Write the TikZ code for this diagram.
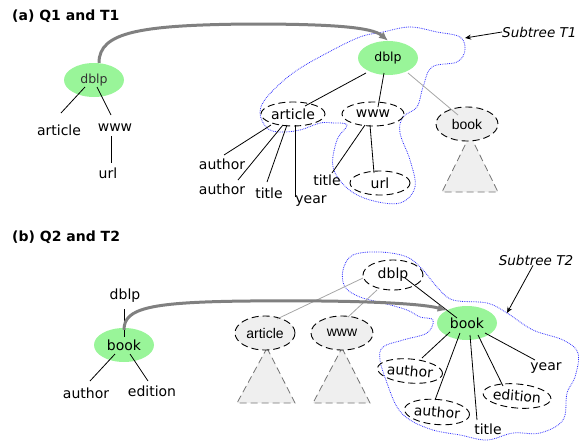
\documentclass[tikz,border=0pt]{standalone}
\usepackage{fontspec}
\setmainfont{DejaVu Sans}
\newfontfamily\arialf{Liberation Sans}
\usetikzlibrary{shapes.geometric,calc,arrows.meta}
\definecolor{qgreen}{HTML}{99F599}
\definecolor{egray}{HTML}{EFEFEF}
\definecolor{blobblue}{HTML}{3030FF}
\definecolor{curvegray}{HTML}{808080}
\begin{document}
\begin{tikzpicture}[x=1pt,y=-1pt,
  lbl/.style={inner sep=0pt,font=\fontsize{14}{16}\selectfont},
  title/.style={inner sep=0pt,anchor=west,font=\bfseries\fontsize{14}{16}\selectfont},
  sublbl/.style={inner sep=0pt,font=\itshape\fontsize{13.5}{15}\selectfont},
  qnode/.style={ellipse,fill=qgreen,inner sep=0pt,minimum width=60pt,minimum height=34pt,font=\fontsize{14}{16}\selectfont},
  gnode/.style={ellipse,fill=egray,draw=black,dash pattern=on 7pt off 4pt,line width=0.9pt,inner sep=0pt,minimum width=62pt,minimum height=34pt,font=\arialf\fontsize{14}{16}\selectfont},
  dnode/.style={ellipse,draw=black,dash pattern=on 7pt off 4pt,line width=0.9pt,inner sep=0pt,minimum width=62pt,minimum height=24pt,font=\fontsize{14}{16}\selectfont},
  edge/.style={draw=black,line width=0.8pt},
  gedge/.style={draw=black!35,line width=0.8pt},
  tri/.style={fill=egray,draw=black!55,dash pattern=on 7pt off 4pt,line width=0.8pt},
  blob/.style={draw=blobblue,densely dotted,line width=0.8pt},
  qcurve/.style={draw=curvegray,line width=3pt,-{Latex[length=9pt,width=8pt]}},
  subarrow/.style={draw=black,line width=0.8pt,-{Stealth[length=6pt,width=5pt]}}]
\useasboundingbox (0,0) rectangle (579,442);

% ---------- (a) ----------
\node[title] (ta) at (12,16) {(a) Q1 and T1};

\draw[blob] plot[smooth cycle,tension=0.6] coordinates {
 (383,32) (410,27) (437,32) (460,37) (465,50) (457,62) (432,67) (423,87)
 (417,107) (403,117) (400,133) (410,160) (415,187) (400,203) (370,200)
 (347,188) (333,167) (337,140) (347,125) (333,123) (320,123) (300,130)
 (280,132) (267,128) (260,113) (267,97) (293,73) (327,53) (360,37)};

\draw[tri] (470,135) -- (498,192) -- (442,192) -- cycle;

\node[qnode,text=black!80] (dA1) at (94,80) {\fontsize{12.5}{14}\selectfont dblp};
\node[lbl] (tArt1) at (59,130) {article};
\node[lbl] (tWww1) at (115,128) {www};
\node[lbl] (tUrl1) at (108,173) {url};

\node[qnode] (dA2) at (388,58) {\fontsize{12.5}{14}\selectfont dblp};
\node[dnode,minimum width=64pt] (art2) at (293,114) {article};
\node[dnode] (www2) at (373,114) {www};
\node[gnode] (book2) at (467,124) {book};
\node[dnode,minimum width=60pt] (url2) at (380,183) {url};
\node[lbl] (tTit2) at (327,180) {title};
\node[lbl] (tAu1) at (222,164) {author};
\node[lbl] (tAu2) at (222,189) {author};
\node[lbl] (tTi1) at (269,193) {title};
\node[lbl] (tYr1) at (311,201) {year};
\node[sublbl,anchor=west] (tT1) at (502,32) {Subtree T1};
\coordinate (cT1) at (465,38);

\draw[edge] ($(dA1)+(-9,7)$) -- ($(tArt1)+(2,-17)$);
\draw[edge] ($(dA1)+(3,7)$) -- ($(tWww1)+(-4,-13)$);
\draw[edge] ($(tWww1)+(-4,8)$) -- ($(tUrl1)+(3,-10)$);

\draw[edge] ($(dA2)+(-22,15)$) -- ($(art2)+(12,-8)$);
\draw[edge] ($(dA2)+(-4,15)$) -- ($(www2)+(5,-7)$);
\draw[gedge] ($(dA2)+(20,15)$) -- ($(book2)+(-9,-9)$);
\draw[edge] ($(art2)+(-22,11)$) -- ($(tAu1)+(2,-9)$);
\draw[edge] ($(art2)+(-10,11)$) -- ($(tAu2)+(16,-9)$);
\draw[edge] ($(art2)+(-6,11)$) -- ($(tTi1)+(-2,-11)$);
\draw[edge] ($(art2)+(2,11)$) -- ($(tYr1)+(-16,-4)$);
\draw[edge] ($(www2)+(-8,11)$) -- ($(tTit2)+(5,-7)$);
\draw[edge] ($(www2)+(-3,11)$) -- ($(url2)+(-6,-10)$);

\draw[qcurve] ($(dA1.north)+(5,0)$) .. controls (99,32) and (140,25) .. (250,24)
  .. controls (330,24) and (372,27) .. (dA2.north);
\draw[subarrow] (tT1.west) -- (cT1);

% ---------- (b) ----------
\node[title] (tb) at (12,237) {(b) Q2 and T2};

\draw[blob] plot[smooth cycle,tension=0.6] coordinates {
 (343,270) (353,255) (380,252) (407,257) (423,270) (437,287) (453,300)
 (487,303) (507,313) (533,330) (563,340) (578,353) (575,377) (567,393)
 (563,420) (540,433) (513,433) (487,440) (460,435) (433,430) (410,420)
 (397,407) (387,383) (380,360) (383,347) (403,340) (427,333) (433,320)
 (420,317) (407,310) (383,303) (360,297) (345,287)};

\draw[tri] (267,348) -- (295,403) -- (237,403) -- cycle;
\draw[tri] (342,348) -- (370,403) -- (313,403) -- cycle;

\node[lbl] (tDb3) at (125,296) {dblp};
\node[qnode] (bB1) at (124,345) {book};
\node[lbl] (tAu3) at (86,393) {author};
\node[lbl] (tEd3) at (152,391) {edition};

\node[gnode,minimum width=60pt] (art3) at (265,333) {article};
\node[gnode] (www3) at (342,333) {www};
\node[dnode,minimum width=60pt,minimum height=30pt] (dB3) at (393,275) {dblp};
\node[qnode] (bB2) at (467,323) {book};
\node[dnode,rotate=-5,minimum width=54pt] (au4) at (410,371) {author};
\node[dnode,rotate=-5,minimum width=60pt,minimum height=25pt] (au5) at (437,412) {author};
\node[dnode,rotate=-5,minimum width=61pt] (ed4) at (517,396) {edition};
\node[lbl] (tTi5) at (488,429) {title};
\node[lbl] (tYr5) at (546,368) {year};
\node[sublbl] (tT2) at (536,260) {Subtree T2};
\coordinate (cT2) at (507,313);

\draw[edge] ($(tDb3)+(-1,13)$) -- ($(bB1)+(0,-8)$);
\draw[edge] ($(bB1)+(-9,9)$) -- ($(tAu3)+(4,-12)$);
\draw[edge] ($(bB1)+(6,9)$) -- ($(tEd3)+(-4,-10)$);

\draw[gedge] ($(dB3)+(-30,3)$) -- ($(art3)+(12,-14)$);
\draw[gedge] ($(dB3)+(-16,15)$) -- ($(www3)+(6,-16)$);
\draw[edge] ($(dB3)+(12,3)$) -- ($(bB2)+(-10,-5)$);
\draw[edge] ($(bB2)+(-17,9)$) -- ($(au4)+(12,-13)$);
\draw[edge] ($(bB2)+(-7,10)$) -- ($(au5)+(-2,-12)$);
\draw[edge] ($(bB2)+(3,12)$) -- ($(tTi5)+(-11,-9)$);
\draw[edge] ($(bB2)+(11,12)$) -- ($(ed4)+(-14,-10)$);
\draw[edge] ($(bB2)+(18,10)$) -- ($(tYr5)+(-11,-8)$);

\draw[qcurve] ($(bB1.north)+(0,2)$) .. controls (124,308) and (150,302) .. (250,301)
  .. controls (350,300) and (420,303) .. (bB2.148);
\draw[subarrow] ($(tT2.south)+(-3,0)$) -- (cT2);
\end{tikzpicture}
\end{document}
